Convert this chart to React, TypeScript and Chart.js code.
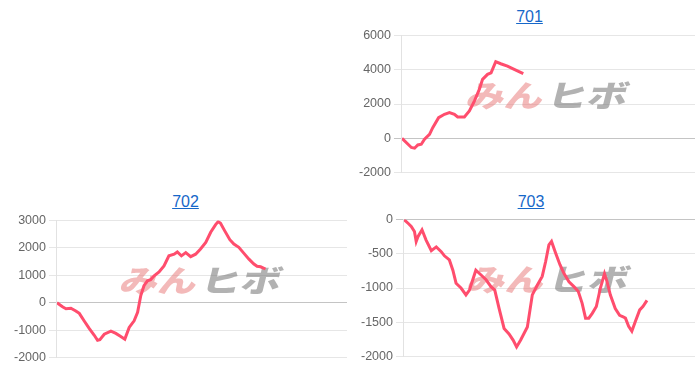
import React, { useEffect, useRef } from "react";
import { Chart, registerables } from "chart.js";

Chart.register(...registerables);

// ---- data ----
const days701 = [0, 3.2, 4.3, 5.4, 6.6, 7.7, 9.4, 10.5, 12.5, 14.5, 16.2, 17.9, 19.0, 21.3, 23.0, 24.7, 26.4, 27.5, 29.2, 30.4, 32.0, 33.7, 36.0, 38.3, 41.4];
const values701 = [0, -540, -580, -390, -350, -60, 230, 620, 1200, 1400, 1500, 1400, 1240, 1240, 1590, 2170, 2850, 3440, 3730, 3820, 4470, 4350, 4210, 4020, 3770];

const days702 = [0, 1.9, 3.1, 4.8, 6.5, 7.7, 9.4, 11.1, 12.8, 14.0, 14.8, 16.3, 18.6, 20.3, 22.0, 23.4, 24.9, 26.6, 27.8, 28.9, 30.0, 31.2, 32.3, 33.5, 35.2, 36.9, 38.6, 40.4, 41.5, 42.9, 44.4, 46.1, 47.8, 49.5, 51.3, 53.0, 54.7, 55.6, 56.4, 57.8, 59.6, 61.0, 62.7, 64.4, 66.2, 67.9, 69.0, 70.2, 71.9];
const values702 = [0, -150, -220, -200, -300, -390, -670, -940, -1180, -1370, -1350, -1150, -1040, -1120, -1230, -1330, -900, -660, -350, 260, 620, 800, 840, 980, 1120, 1340, 1710, 1770, 1850, 1710, 1830, 1680, 1770, 1960, 2200, 2570, 2850, 2960, 2900, 2630, 2300, 2140, 2020, 1810, 1590, 1410, 1330, 1310, 1230];

const days703 = [0, 1.4, 2.5, 3.6, 4.2, 4.8, 6.2, 7.6, 9.4, 11.1, 12.8, 13.9, 15.6, 16.8, 17.9, 19.6, 21.3, 22.5, 24.7, 26.5, 28.2, 29.9, 31.2, 32.7, 34.4, 36.1, 37.5, 38.7, 40.1, 42.4, 44.1, 45.8, 47.5, 48.7, 49.8, 50.7, 52.1, 53.6, 55.0, 56.7, 58.4, 59.9, 61.2, 62.4, 63.5, 64.7, 66.1, 67.5, 68.9, 69.8, 70.9, 72.6, 74.1, 75.3, 76.1, 77.2, 78.3, 79.5, 81.0, 82.1, 83.5];
const values703 = [0, -55, -100, -175, -320, -250, -150, -300, -455, -400, -470, -530, -590, -740, -930, -1000, -1100, -1030, -740, -810, -880, -980, -1030, -1300, -1590, -1670, -1760, -1860, -1760, -1570, -1100, -960, -830, -610, -370, -320, -490, -660, -790, -910, -980, -1050, -1220, -1440, -1440, -1370, -1270, -1000, -790, -910, -1100, -1300, -1400, -1420, -1440, -1560, -1630, -1490, -1320, -1270, -1180];

const titles = ["701", "702", "703"];
const yRange701 = [-2000, 6000, 2000];
const yRange702 = [-2000, 3000, 1000];
const yRange703 = [-2000, 0, 500];
const X_MAX = 100;

const LINE_COLOR = "#ff4d6d";
const FONT = '"Liberation Sans", Arial, Helvetica, sans-serif';

const watermark = {
  id: "watermark",
  beforeDatasetsDraw(chart: any) {
    const { ctx, chartArea: a } = chart;
    const cx = (a.left + a.right) / 2 - 2;
    const cy = (a.top + a.bottom) / 2 - 9;
    ctx.save();
    ctx.translate(cx, cy);
    ctx.transform(1, 0, -0.25, 1, 0, 0);
    ctx.font = '900 32px "Noto Sans CJK JP"';
    ctx.textBaseline = "middle";
    ctx.save();
    ctx.scale(1.2, 0.95);
    ctx.fillStyle = "rgba(232, 115, 115, 0.5)";
    ctx.textAlign = "right";
    ctx.fillText("みん", -2 / 1.2, 0);
    ctx.restore();
    ctx.save();
    ctx.scale(1.25, 0.95);
    ctx.fillStyle = "rgba(115, 115, 115, 0.55)";
    ctx.textAlign = "left";
    ctx.fillText("ヒボ", 2 / 1.25, 0);
    ctx.restore();
    ctx.restore();
  },
};

type PanelProps = {
  title: string;
  days: number[];
  values: number[];
  yr: number[];
  box: { left: number; top: number; width: number; height: number };
  titleX: number;
  titleTop: number;
};

function Panel({ title, days, values, yr, box, titleX, titleTop }: PanelProps) {
  const ref = useRef<HTMLCanvasElement | null>(null);
  useEffect(() => {
    if (!ref.current) return;
    const chart = new Chart(ref.current, {
      type: "line",
      data: {
        datasets: [
          {
            label: title,
            data: days.map((d, i) => ({ x: d, y: values[i] })),
            borderColor: LINE_COLOR,
            backgroundColor: LINE_COLOR,
            borderWidth: 3,
            pointRadius: 0,
            tension: 0,
            fill: false,
          },
        ],
      },
      options: {
        animation: false,
        responsive: false,
        maintainAspectRatio: false,
        layout: { padding: { top: 8, bottom: 8, left: 8, right: 5 } },
        plugins: { legend: { display: false }, tooltip: { enabled: false }, title: { display: false } },
        scales: {
          x: { type: "linear", min: 0, max: X_MAX, display: false },
          y: {
            min: yr[0],
            max: yr[1],
            ticks: {
              stepSize: yr[2],
              color: "#666",
              font: { family: FONT, size: 12.5 },
              callback: (v: any) => String(v),
            },
            grid: {
              color: (c: any) => (c.tick && c.tick.value === 0 ? "#c4c4c4" : "#e6e6e6"),
              lineWidth: 1,
            },
            border: { color: "#e2e2e2" },
          },
        },
      },
      plugins: [watermark],
    });
    return () => chart.destroy();
  }, []);
  return (
    <>
      <div
        style={{
          position: "absolute",
          left: titleX - 50,
          top: titleTop,
          width: 100,
          textAlign: "center",
          fontFamily: FONT,
          fontSize: 16,
          lineHeight: "18px",
        }}
      >
        <a href="#" style={{ color: "#1667c9", textDecoration: "underline" }}>
          {title}
        </a>
      </div>
      <div style={{ position: "absolute", ...box }}>
        <canvas ref={ref} width={box.width} height={box.height} style={{ display: "block" }} />
      </div>
    </>
  );
}

export default function App() {
  return (
    <div style={{ position: "fixed", left: 0, top: 0, width: 700, height: 370, background: "#fff", overflow: "hidden" }}>
      <Panel title={titles[0]} days={days701} values={values701} yr={yRange701}
        box={{ left: 348, top: 25, width: 352, height: 158 }} titleX={529.5} titleTop={8} />
      <Panel title={titles[1]} days={days702} values={values702} yr={yRange702}
        box={{ left: 3, top: 210, width: 349, height: 158 }} titleX={185.5} titleTop={193} />
      <Panel title={titles[2]} days={days703} values={values703} yr={yRange703}
        box={{ left: 350, top: 209, width: 350, height: 158 }} titleX={531} titleTop={193} />
    </div>
  );
}
